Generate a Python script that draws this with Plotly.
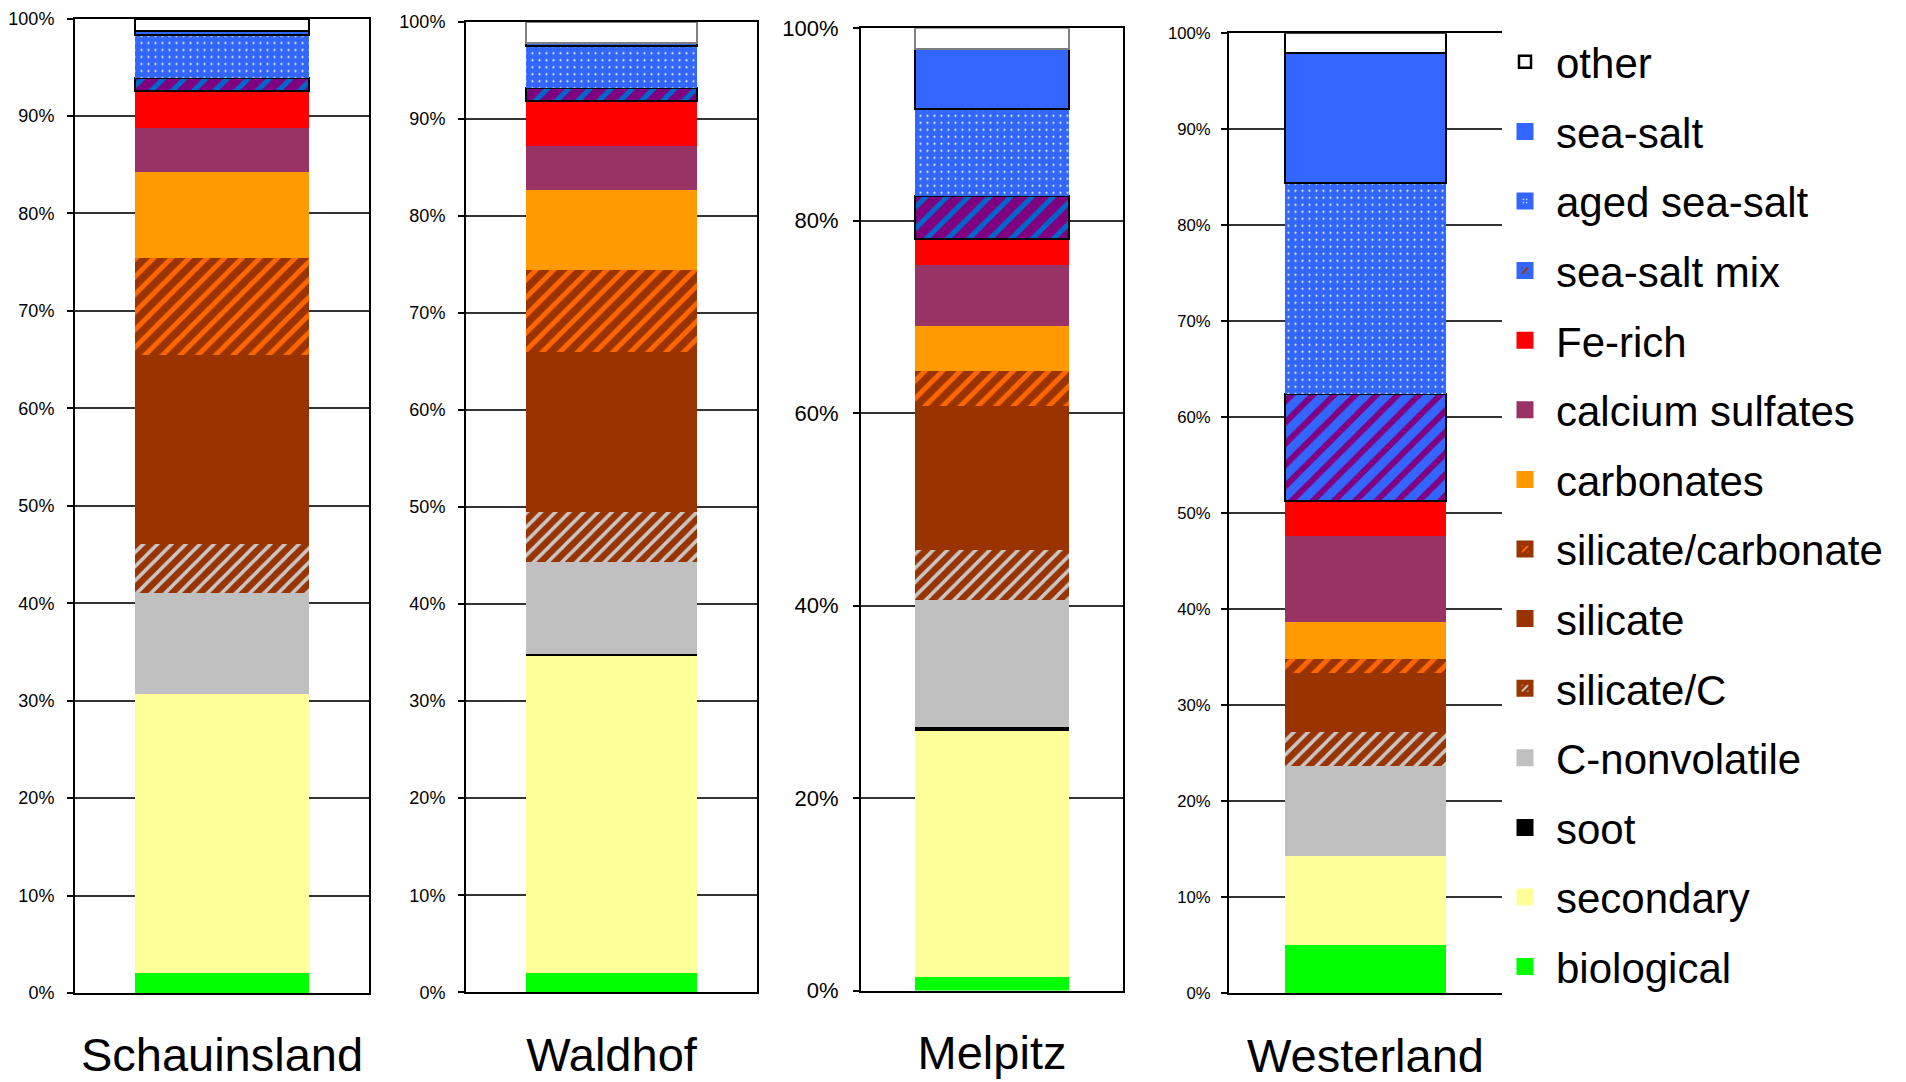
import plotly.graph_objects as go

# ---------------- data ----------------
stations = ["Schauinsland", "Waldhof", "Melpitz", "Westerland"]
categories = ["biological", "secondary", "soot", "C-nonvolatile", "silicate/C",
              "silicate", "silicate/carbonate", "carbonates", "calcium sulfates",
              "Fe-rich", "sea-salt mix", "aged sea-salt", "sea-salt", "other"]
# relative abundance (%) bottom -> top, same order as categories
schauinsland = [2.1, 28.6, 0.0, 10.3, 5.1, 19.4, 9.9, 8.9, 4.5, 3.8, 1.3, 4.4, 0.4, 1.3]
waldhof = [2.0, 32.7, 0.15, 9.45, 5.2, 16.45, 8.5, 8.25, 4.5, 4.65, 1.3, 4.3, 0.4, 2.15]
melpitz = [1.4, 25.6, 0.4, 13.2, 5.2, 14.9, 3.7, 4.7, 6.3, 2.75, 4.45, 9.0, 6.3, 2.1]
westerland = [5.0, 9.3, 0.0, 9.4, 3.55, 6.15, 1.4, 3.9, 8.9, 3.7, 11.15, 21.95, 13.6, 2.0]
station_values = [schauinsland, waldhof, melpitz, westerland]
y_dticks = [10, 10, 20, 10]

# ---------------- styles ----------------
W = 1906
H = 1082
BLUE = "#3366FF"
PURPLE = "#800080"
BROWN = "#993300"
styles = {
    "biological": dict(color="#00FF00"),
    "secondary": dict(color="#FFFF99"),
    "soot": dict(color="#000000"),
    "C-nonvolatile": dict(color="#C0C0C0"),
    "silicate/C": dict(color=BROWN, pattern=dict(shape="/", bgcolor=BROWN, fgcolor="#C8C8C8",
                                                  size=10, solidity=0.35, fillmode="replace")),
    "silicate": dict(color=BROWN),
    "silicate/carbonate": dict(color=BROWN, pattern=dict(shape="/", bgcolor=BROWN, fgcolor="#FF6600",
                                                          size=12.5, solidity=0.4, fillmode="replace")),
    "carbonates": dict(color="#FF9900"),
    "calcium sulfates": dict(color="#993366"),
    "Fe-rich": dict(color="#FF0000"),
    "sea-salt mix": dict(color=PURPLE, pattern=dict(shape="/", bgcolor=PURPLE, fgcolor="#0066CC",
                                                     size=15, solidity=0.35, fillmode="replace"),
                         line=dict(color="#000000", width=2)),
    "aged sea-salt": dict(color=BLUE, pattern=dict(shape=".", bgcolor=BLUE, fgcolor="#FFFFCC",
                                                    size=7, solidity=0.07, fillmode="replace")),
    "sea-salt": dict(color=BLUE, line=dict(color="#000000", width=2)),
    "other": dict(color="#FFFFFF", line=dict(color="#000000", width=2)),
}
# Westerland's sea-salt mix is drawn blue with purple stripes
westerland_mix = dict(color=BLUE, pattern=dict(shape="/", bgcolor=BLUE, fgcolor=PURPLE,
                                               size=15, solidity=0.4, fillmode="replace"),
                      line=dict(color="#000000", width=2))
other_line_colors = ["#000000", "#7F7F7F", "#7F7F7F", "#000000"]

# legend swatch styles (enlarged square swatches)
legend_fg = {"silicate/C": "#C8C8C8", "silicate/carbonate": "#FF6600",
             "sea-salt mix": BROWN, "aged sea-salt": "#FFFFCC"}
legend_bg = {"sea-salt mix": BLUE}

# panel geometry (pixels)
x_domains_px = [(75, 369), (466, 757), (861, 1123), (1229, 1502)]
y_domains_px = [(18.5, 993), (21.7, 992.3), (28.3, 990.5), (33.3, 993.3)]
tick_sizes = [18, 18, 22, 16.7]
tick_standoffs = [9, 9, 10, 7]
FONT = "Liberation Sans, Arial, Helvetica, sans-serif"

fig = go.Figure()
n_cat = len(categories)
for ci, cat in enumerate(categories):
    for pi, st in enumerate(stations):
        st_style = styles[cat]
        if cat == "sea-salt mix" and pi == 3:
            st_style = westerland_mix
        marker = dict(color=st_style["color"])
        if "pattern" in st_style:
            marker["pattern"] = st_style["pattern"]
        if "line" in st_style:
            ln = dict(st_style["line"])
            if cat == "other":
                ln["color"] = other_line_colors[pi]
            marker["line"] = ln
        else:
            marker["line"] = dict(width=0)
        suffix = "" if pi == 0 else str(pi + 1)
        fig.add_trace(go.Bar(
            x=[st], y=[station_values[pi][ci]], name=cat, legendgroup=cat,
            legendrank=n_cat - ci, showlegend=False, marker=marker, width=0.59,
            xaxis="x" + suffix, yaxis="y" + suffix,
        ))
    # legend entry (no data drawn)
    base = styles[cat]
    bg = legend_bg.get(cat, base["color"])
    lmarker = dict(color=bg)
    if cat in legend_fg:
        shape = "." if cat == "aged sea-salt" else "/"
        lmarker["pattern"] = dict(shape=shape, bgcolor=bg, fgcolor=legend_fg[cat],
                                  size=4 if shape == "." else 6,
                                  solidity=0.2 if shape == "." else 0.4, fillmode="replace")
    if cat == "other":
        lmarker["line"] = dict(color="#000000", width=2.5)
    else:
        lmarker["line"] = dict(color=bg, width=5)
    fig.add_trace(go.Bar(
        x=[stations[0]], y=[None], name=cat, legendgroup=cat, legendrank=n_cat - ci,
        showlegend=True, marker=lmarker, hoverinfo="skip", xaxis="x", yaxis="y",
    ))

layout = dict(
    width=W, height=H, autosize=False,
    margin=dict(l=0, r=0, t=0, b=0, autoexpand=False),
    paper_bgcolor="white", plot_bgcolor="white",
    barmode="stack",
    font=dict(family=FONT, color="black"),
    showlegend=True,
    legend=dict(x=1494 / W, y=1 - 28 / H, xanchor="left", yanchor="top",
                traceorder="grouped", tracegroupgap=12, itemwidth=52,
                font=dict(family=FONT, size=42, color="black"),
                bgcolor="rgba(0,0,0,0)", borderwidth=0),
)
for pi in range(4):
    suffix = "" if pi == 0 else str(pi + 1)
    x0, x1 = x_domains_px[pi]
    yt, yb = y_domains_px[pi]
    layout["xaxis" + suffix] = dict(
        domain=[x0 / W, x1 / W], anchor="y" + suffix, type="category",
        range=[-0.5, 0.5], showgrid=False, showline=True, linecolor="black",
        linewidth=2, mirror=True, ticks="", tickfont=dict(family=FONT, size=47, color="black"),
        ticklabelstandoff=20, fixedrange=True,
    )
    layout["yaxis" + suffix] = dict(
        domain=[1 - yb / H, 1 - yt / H], anchor="x" + suffix, range=[0, 100],
        dtick=y_dticks[pi], tick0=0, ticksuffix="%", ticks="outside", ticklen=6,
        tickcolor="black", tickwidth=1.5, showline=True, linecolor="black", linewidth=2,
        mirror=(pi != 3), showgrid=True, gridcolor="#333333", gridwidth=1.5,
        zeroline=False, tickfont=dict(family=FONT, size=tick_sizes[pi], color="black"),
        ticklabelstandoff=tick_standoffs[pi], fixedrange=True,
    )
fig.update_layout(**layout)

fig.write_html("out.html", config={"displayModeBar": False},
               post_script="document.body.style.margin='0px';document.body.style.padding='0px';")
